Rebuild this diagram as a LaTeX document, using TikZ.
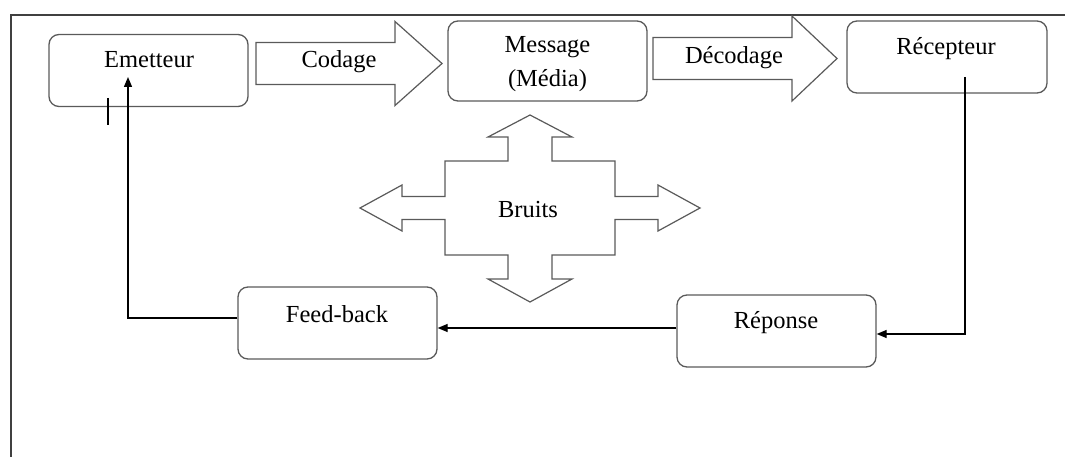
\documentclass[tikz,border=0pt]{standalone}
\usepackage{fontspec}
\setmainfont{Liberation Serif}
\usetikzlibrary{arrows.meta}
\definecolor{boxline}{HTML}{5A5A5A}
\definecolor{frameline}{HTML}{404040}
\tikzset{
  box/.style={draw=boxline, line width=1.3pt, rounded corners=10pt,
    minimum width=199pt, minimum height=72pt, inner sep=0pt},
  lbl/.style={anchor=base, inner sep=0pt, font=\fontsize{24.5}{34}\selectfont},
  blockarrow/.style={draw=boxline, line width=1.2pt, fill=white, line join=miter},
  conn/.style={draw=black, line width=1.3pt, -{Triangle[length=10pt,width=8pt]}},
  plainline/.style={draw=black, line width=1.3pt},
  frame/.style={draw=frameline, line width=1.5pt}
}
\begin{document}
\begin{tikzpicture}[x=1pt,y=-1pt]
\useasboundingbox (0,0) rectangle (1065,457);

% outer frame (top and left edges)
\draw[frame] (1065,15) -- (11,15) -- (11,457);

% boxes
\node[box] (em) at (148.5,70.5) {};
\node[box, minimum width=199pt, minimum height=80pt] (msg) at (547.5,61) {};
\node[box, minimum width=200pt] (rc) at (947,57) {};
\node[box] (rp) at (776.5,331) {};
\node[box] (fb) at (337.5,323) {};

% box labels
\node[lbl] (emt) at (149,68) {Emetteur};
\node[lbl, align=center] (msgt) at (547.5,87) {Message\\(Média)};
\node[lbl] (rct) at (946,55) {Récepteur};
\node[lbl] (rpt) at (776,328) {Réponse};
\node[lbl] (fbt) at (337,322) {Feed-back};

% block arrow: Codage
\draw[blockarrow] (256,42.5) -- (395,42.5) -- (395,21.5) -- (442,63.5)
  -- (395,105.5) -- (395,84.5) -- (256,84.5) -- cycle;
\node[lbl] (cod) at (339,68) {Codage};

% block arrow: Décodage
\draw[blockarrow] (653,37.5) -- (792,37.5) -- (792,16) -- (837,58.5)
  -- (792,101) -- (792,79.5) -- (653,79.5) -- cycle;
\node[lbl] (dec) at (734,64) {Décodage};

% four-way block arrow: Bruits
\begin{scope}[shift={(530,208)}]
\draw[blockarrow]
  (-22,-47) -- (-22,-71) -- (-42,-71) -- (0,-93) -- (42,-71) -- (22,-71) -- (22,-47)
  -- (85,-47) -- (85,-11.5) -- (128,-11.5) -- (128,-23) -- (170,0) -- (128,23) -- (128,11.5) -- (85,11.5)
  -- (85,47) -- (22,47) -- (22,71) -- (42,71) -- (0,94) -- (-42,71) -- (-22,71) -- (-22,47)
  -- (-85,47) -- (-85,11.5) -- (-128,11.5) -- (-128,23) -- (-170,0) -- (-128,-23) -- (-128,-11.5) -- (-85,-11.5)
  -- (-85,-47) -- cycle;
\end{scope}
\node[lbl] (bru) at (528,218) {Bruits};

% connectors
\coordinate (rcout) at (965,77);
\coordinate (emin) at (128,77);
\draw[conn] (rcout) |- (rp.east |- 0,334);
\draw[conn] (rp.west |- 0,328) -- (fb.east |- 0,328);
\draw[conn] (fb.west |- 0,318) -| (emin);

% tick mark under Emetteur
\coordinate (tka) at (108,98);
\coordinate (tkb) at (108,125);
\draw[plainline, line width=2pt] (tka) -- (tkb);
\end{tikzpicture}
\end{document}
